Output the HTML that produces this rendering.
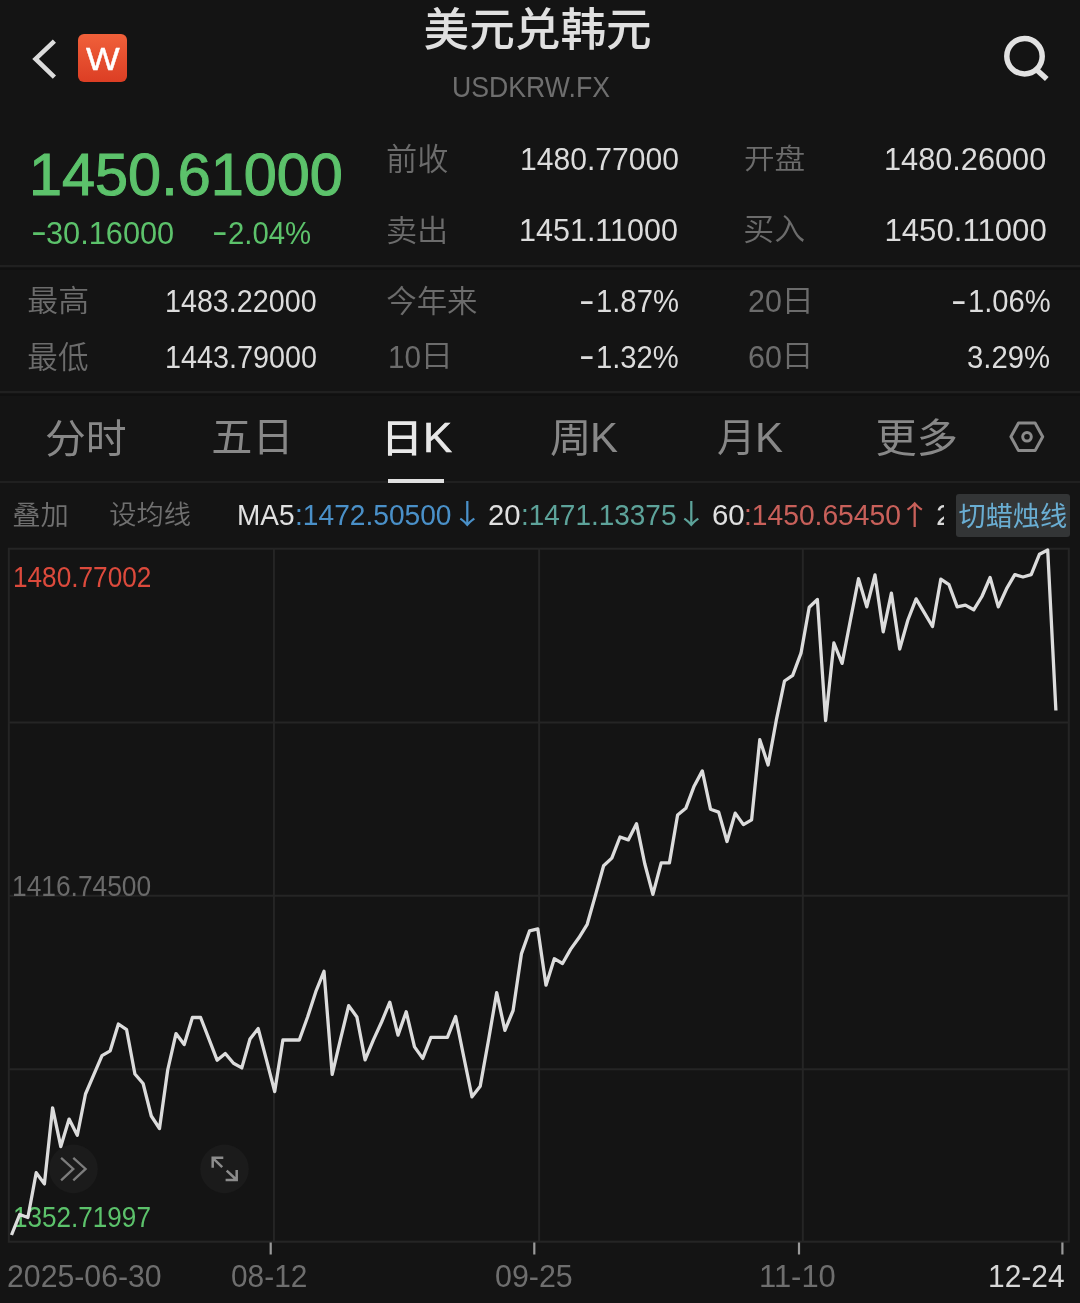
<!DOCTYPE html>
<html lang="zh"><head><meta charset="utf-8"><title>美元兑韩元 USDKRW.FX</title>
<style>
html,body{margin:0;padding:0}
body{width:1080px;height:1303px;background:#141414;position:relative;overflow:hidden;font-family:'Liberation Sans','Noto Sans CJK SC',sans-serif}
.t{position:absolute;white-space:pre;transform-origin:0 0;line-height:1}
.hl{position:absolute;left:0;width:1080px;height:2px;background:#202020}
svg{position:absolute;left:0;top:0}
.logo{position:absolute;left:78.3px;top:33.9px;width:48.4px;height:48.4px;border-radius:6px;background:linear-gradient(#f0603a,#dc3e24)}
.btn{position:absolute;left:956.2px;top:493.6px;width:113.8px;height:43px;border-radius:3px;background:#333536}
.ul{position:absolute;left:387.7px;top:478.5px;width:56px;height:4.5px;background:#e0e0e0}
</style></head><body>
<div class="hl" style="top:264.6px"></div><div class="hl" style="top:267.6px;height:2.6px;background:#101010"></div>
<div class="hl" style="top:391.2px"></div><div class="hl" style="top:393.6px;height:2.4px;background:#101010"></div>
<div class="hl" style="top:481.2px"></div>
<div class="ul"></div>
<div class="logo"></div>
<div class="btn"></div>
<svg width="1080" height="1303" viewBox="0 0 1080 1303" fill="none">
<g stroke="#252525" stroke-width="2">
<rect x="8.8" y="548.7" width="1060" height="693"/>
<path d="M8.8 722.5H1068.8M8.8 895.7H1068.8M8.8 1069.3H1068.8M273.9 548.7V1241.7M539.1 548.7V1241.7M802.8 548.7V1241.7"/>
</g>
<path d="M270.7 1242.5V1254.5M534.3 1242.5V1254.5M799 1242.5V1254.5M1062.4 1242.5V1254.5" stroke="#9a9a9a" stroke-width="2.2"/>
<circle cx="73.5" cy="1168.9" r="24.3" fill="#1b1b1b"/>
<circle cx="224.5" cy="1168.9" r="24.3" fill="#1b1b1b"/>
<path d="M61.1 1157.8L73.3 1168.9L61.1 1180.4M73.3 1157.8L85.6 1168.9L73.3 1180.4" stroke="#7c7c7c" stroke-width="2.3"/>
<path d="M223.3 1157.8H212.7V1167.8M212.7 1157.8L222.2 1167.1M225.6 1180H236.7V1170M236.7 1180L226.7 1170.7" stroke="#8c8c8c" stroke-width="2.5"/>
<path d="M54.4 41.1L35.6 58.9L54.4 77.2" stroke="#dcdcdc" stroke-width="4.6"/>
<circle cx="1024.5" cy="56.2" r="17.7" stroke="#e2e2e2" stroke-width="5.5"/>
<path d="M1036.6 69.8L1046.8 79" stroke="#e2e2e2" stroke-width="5.5"/>
<path d="M1010.9 436.8L1018.5 423.1H1035.1L1042.7 436.8L1035.1 450.6H1018.5Z" stroke="#8a8a8a" stroke-width="3" stroke-linejoin="round"/>
<circle cx="1027" cy="436.8" r="4.3" stroke="#8c8c8c" stroke-width="3"/>
</svg>
<span class="t" style="left:423.58px;top:8.00px;font:500 45.62px/1 'Liberation Sans', 'Noto Sans CJK SC', sans-serif;color:#e0e0e0;">美元兑韩元</span>
<span class="t" style="left:85.59px;top:44.00px;font:400 30.65px/1 'Liberation Sans', sans-serif;color:#ffffff;transform:scale(1.1649,1.0000);-webkit-text-stroke:0.4px #fff;">W</span>
<span class="t" style="left:451.84px;top:72.00px;font:400 29.40px/1 'Liberation Sans', sans-serif;color:#6e6e6e;transform:scale(0.9067,1.0000);">USDKRW.FX</span>
<span class="t" style="left:386.01px;top:143.53px;font:350 31.22px/1 'Liberation Sans', 'Noto Sans CJK SC', sans-serif;color:#6c6c6c;transform:scale(1.0000,0.9853);">前收</span>
<span class="t" style="left:519.51px;top:144.00px;font:400 31.16px/1 'Liberation Sans', sans-serif;color:#dcdcdc;transform:scale(0.9652,1.0000);">1480.77000</span>
<span class="t" style="left:743.99px;top:144.74px;font:350 30.62px/1 'Liberation Sans', 'Noto Sans CJK SC', sans-serif;color:#6c6c6c;transform:scale(1.0000,0.9371);">开盘</span>
<span class="t" style="left:884.32px;top:144.00px;font:400 31.16px/1 'Liberation Sans', sans-serif;color:#dcdcdc;transform:scale(0.9856,1.0000);">1480.26000</span>
<span class="t" style="left:28.54px;top:145.00px;font:400 59.80px/1 'Liberation Sans', sans-serif;color:#5cc26b;transform:scale(0.9935,1.0000);-webkit-text-stroke:1.1px #5cc26b;">1450.61000</span>
<span class="t" style="left:31.35px;top:214.12px;font:400 34.75px/1 'Liberation Sans', sans-serif;color:#5cc26b;transform:scale(1.3731,1.0000);">-</span>
<span class="t" style="left:45.93px;top:218.00px;font:400 30.65px/1 'Liberation Sans', sans-serif;color:#5cc26b;transform:scale(1.0029,1.0000);">30.16000</span>
<span class="t" style="left:211.94px;top:214.12px;font:400 34.75px/1 'Liberation Sans', sans-serif;color:#5cc26b;transform:scale(1.3475,1.0000);">-</span>
<span class="t" style="left:227.82px;top:218.00px;font:400 30.65px/1 'Liberation Sans', sans-serif;color:#5cc26b;transform:scale(0.9570,1.0000);">2.04%</span>
<span class="t" style="left:385.91px;top:215.60px;font:350 31.16px/1 'Liberation Sans', 'Noto Sans CJK SC', sans-serif;color:#6c6c6c;transform:scale(1.0000,0.9660);">卖出</span>
<span class="t" style="left:519.39px;top:215.00px;font:400 31.16px/1 'Liberation Sans', sans-serif;color:#dcdcdc;transform:scale(0.9793,1.0000);">1451.11000</span>
<span class="t" style="left:743.27px;top:215.49px;font:350 30.88px/1 'Liberation Sans', 'Noto Sans CJK SC', sans-serif;color:#6c6c6c;transform:scale(1.0000,0.9848);">买入</span>
<span class="t" style="left:884.43px;top:215.00px;font:400 31.16px/1 'Liberation Sans', sans-serif;color:#dcdcdc;">1450.11000</span>
<span class="t" style="left:27.24px;top:287.35px;font:350 30.92px/1 'Liberation Sans', 'Noto Sans CJK SC', sans-serif;color:#6c6c6c;transform:scale(1.0000,0.9685);">最高</span>
<span class="t" style="left:164.90px;top:286.00px;font:400 30.65px/1 'Liberation Sans', sans-serif;color:#dcdcdc;transform:scale(0.9364,1.0000);">1483.22000</span>
<span class="t" style="left:386.25px;top:285.80px;font:350 30.44px/1 'Liberation Sans', 'Noto Sans CJK SC', sans-serif;color:#6c6c6c;transform:scale(1.0000,1.0007);">今年来</span>
<span class="t" style="left:579.43px;top:283.32px;font:400 34.75px/1 'Liberation Sans', sans-serif;color:#dcdcdc;transform:scale(1.3478,1.0000);">-</span>
<span class="t" style="left:595.76px;top:286.00px;font:400 30.65px/1 'Liberation Sans', sans-serif;color:#dcdcdc;transform:scale(0.9538,1.0000);">1.87%</span>
<span class="t" style="left:748.09px;top:286.00px;font:400 30.65px/1 'Liberation Sans', sans-serif;color:#6c6c6c;transform:scale(0.9934,1.0000);">20</span>
<span class="t" style="left:780.99px;top:286.00px;font:350 29.45px/1 'Liberation Sans', 'Noto Sans CJK SC', sans-serif;color:#6c6c6c;transform:scale(1.1328,1.0000);">日</span>
<span class="t" style="left:950.91px;top:283.32px;font:400 34.75px/1 'Liberation Sans', sans-serif;color:#dcdcdc;transform:scale(1.3481,1.0000);">-</span>
<span class="t" style="left:967.77px;top:286.00px;font:400 30.65px/1 'Liberation Sans', sans-serif;color:#dcdcdc;transform:scale(0.9520,1.0000);">1.06%</span>
<span class="t" style="left:27.30px;top:341.56px;font:350 30.58px/1 'Liberation Sans', 'Noto Sans CJK SC', sans-serif;color:#6c6c6c;transform:scale(1.0000,0.9892);">最低</span>
<span class="t" style="left:164.87px;top:342.00px;font:400 30.53px/1 'Liberation Sans', sans-serif;color:#dcdcdc;transform:scale(0.9423,1.0000);">1443.79000</span>
<span class="t" style="left:388.17px;top:342.00px;font:400 30.53px/1 'Liberation Sans', sans-serif;color:#6c6c6c;transform:scale(0.9714,1.0000);">10</span>
<span class="t" style="left:419.73px;top:340.80px;font:350 29.97px/1 'Liberation Sans', 'Noto Sans CJK SC', sans-serif;color:#6c6c6c;transform:scale(1.1145,1.0000);">日</span>
<span class="t" style="left:579.43px;top:338.42px;font:400 34.75px/1 'Liberation Sans', sans-serif;color:#dcdcdc;transform:scale(1.3478,1.0000);">-</span>
<span class="t" style="left:595.73px;top:342.00px;font:400 30.53px/1 'Liberation Sans', sans-serif;color:#dcdcdc;transform:scale(0.9568,1.0000);">1.32%</span>
<span class="t" style="left:748.00px;top:342.00px;font:400 30.53px/1 'Liberation Sans', sans-serif;color:#6c6c6c;transform:scale(0.9980,1.0000);">60</span>
<span class="t" style="left:780.94px;top:340.80px;font:350 29.97px/1 'Liberation Sans', 'Noto Sans CJK SC', sans-serif;color:#6c6c6c;transform:scale(1.0946,1.0000);">日</span>
<span class="t" style="left:967.14px;top:342.00px;font:400 30.53px/1 'Liberation Sans', sans-serif;color:#dcdcdc;transform:scale(0.9611,1.0000);">3.29%</span>
<span class="t" style="left:44.96px;top:419.56px;font:400 40.86px/1 'Liberation Sans', 'Noto Sans CJK SC', sans-serif;color:#888888;transform:scale(1.0000,0.9630);">分时</span>
<span class="t" style="left:211.36px;top:418.45px;font:400 41.13px/1 'Liberation Sans', 'Noto Sans CJK SC', sans-serif;color:#888888;transform:scale(1.0000,0.9638);">五日</span>
<span class="t" style="left:381.45px;top:419.95px;font:500 38.43px/1 'Liberation Sans', 'Noto Sans CJK SC', sans-serif;color:#e8e8e8;transform:scale(1.0882,1.0000);">日</span>
<span class="t" style="left:422.55px;top:417.00px;font:400 41.58px/1 'Liberation Sans', sans-serif;color:#e8e8e8;transform:scale(1.0484,1.0000);-webkit-text-stroke:0.5px #e8e8e8;">K</span>
<span class="t" style="left:549.50px;top:418.94px;font:400 39.62px/1 'Liberation Sans', 'Noto Sans CJK SC', sans-serif;color:#888888;transform:scale(1.0463,1.0000);">周</span>
<span class="t" style="left:590.16px;top:417.00px;font:400 41.58px/1 'Liberation Sans', sans-serif;color:#888888;transform:scale(1.0093,1.0000);">K</span>
<span class="t" style="left:717.06px;top:419.15px;font:400 38.92px/1 'Liberation Sans', 'Noto Sans CJK SC', sans-serif;color:#888888;transform:scale(0.9841,1.0000);">月</span>
<span class="t" style="left:755.16px;top:417.00px;font:400 41.58px/1 'Liberation Sans', sans-serif;color:#888888;transform:scale(1.0093,1.0000);">K</span>
<span class="t" style="left:875.46px;top:419.47px;font:400 41.20px/1 'Liberation Sans', 'Noto Sans CJK SC', sans-serif;color:#888888;transform:scale(1.0000,0.9584);">更多</span>
<span class="t" style="left:12.25px;top:501.77px;font:350 28.38px/1 'Liberation Sans', 'Noto Sans CJK SC', sans-serif;color:#707070;transform:scale(1.0000,0.9442);">叠加</span>
<span class="t" style="left:109.35px;top:502.23px;font:350 27.25px/1 'Liberation Sans', 'Noto Sans CJK SC', sans-serif;color:#707070;transform:scale(1.0000,0.9469);">设均线</span>
<span class="t" style="left:237.47px;top:501.00px;font:400 28.89px/1 'Liberation Sans', sans-serif;color:#e0e0e0;transform:scale(0.9679,1.0000);">MA5</span>
<span class="t" style="left:295.47px;top:501.00px;font:400 28.89px/1 'Liberation Sans', sans-serif;color:#4a90c8;transform:scale(0.9748,1.0000);">:1472.50500</span>
<span class="t" style="left:450.99px;top:499.00px;font:400 27.60px/1 'Noto Sans CJK SC', sans-serif;color:#4a90c8;transform:scale(1.1830,1.0000);">↓</span>
<span class="t" style="left:488.38px;top:501.00px;font:400 28.89px/1 'Liberation Sans', sans-serif;color:#e0e0e0;transform:scale(1.0136,1.0000);">20</span>
<span class="t" style="left:520.52px;top:501.00px;font:400 28.89px/1 'Liberation Sans', sans-serif;color:#5da39a;transform:scale(0.9682,1.0000);">:1471.13375</span>
<span class="t" style="left:674.99px;top:499.00px;font:400 27.60px/1 'Noto Sans CJK SC', sans-serif;color:#5da39a;transform:scale(1.1830,1.0000);">↓</span>
<span class="t" style="left:712.20px;top:501.00px;font:400 28.89px/1 'Liberation Sans', sans-serif;color:#e0e0e0;transform:scale(1.0182,1.0000);">60</span>
<span class="t" style="left:744.44px;top:501.00px;font:400 28.89px/1 'Liberation Sans', sans-serif;color:#c8605a;transform:scale(0.9770,1.0000);">:1450.65450</span>
<span class="t" style="left:898.01px;top:499.89px;font:400 27.32px/1 'Noto Sans CJK SC', sans-serif;color:#c8605a;transform:scale(1.2231,1.0000);">↑</span>
<div style="position:absolute;left:0;top:0;width:944.3px;height:600px;overflow:hidden"><span class="t" style="left:935.70px;top:501.00px;font:400 28.89px/1 'Liberation Sans', sans-serif;color:#d8d8d8;transform:scale(1.0321,1.0000);">2</span></div>
<span class="t" style="left:958.56px;top:502.65px;font:400 27.14px/1 'Liberation Sans', 'Noto Sans CJK SC', sans-serif;color:#6aaed3;transform:scale(1.0000,0.9887);">切蜡烛线</span>
<span class="t" style="left:13.00px;top:563.00px;font:400 28.64px/1 'Liberation Sans', sans-serif;color:#dc4a3c;transform:scale(0.9146,1.0000);">1480.77002</span>
<span class="t" style="left:12.46px;top:872.00px;font:400 28.64px/1 'Liberation Sans', sans-serif;color:#6a6a6a;transform:scale(0.9200,1.0000);">1416.74500</span>
<span class="t" style="left:13.00px;top:1203.00px;font:400 28.64px/1 'Liberation Sans', sans-serif;color:#5cc26b;transform:scale(0.9118,1.0000);">1352.71997</span>
<span class="t" style="left:6.67px;top:1261.00px;font:400 30.53px/1 'Liberation Sans', sans-serif;color:#6e6e6e;transform:scale(0.9908,1.0000);">2025-06-30</span>
<span class="t" style="left:230.83px;top:1261.00px;font:400 30.53px/1 'Liberation Sans', sans-serif;color:#6e6e6e;transform:scale(0.9783,1.0000);">08-12</span>
<span class="t" style="left:494.74px;top:1261.00px;font:400 30.53px/1 'Liberation Sans', sans-serif;color:#6e6e6e;transform:scale(0.9963,1.0000);">09-25</span>
<span class="t" style="left:759.25px;top:1261.00px;font:400 30.53px/1 'Liberation Sans', sans-serif;color:#6e6e6e;transform:scale(1.0132,1.0000);">11-10</span>
<span class="t" style="left:988.03px;top:1261.00px;font:400 30.53px/1 'Liberation Sans', sans-serif;color:#d8d8d8;transform:scale(0.9804,1.0000);">12-24</span>
<svg width="1080" height="1303" viewBox="0 0 1080 1303" fill="none">
<polyline points="11.5,1235.0 19.7,1214.5 27.9,1217.5 36.2,1172.7 44.4,1183.9 52.6,1107.8 60.8,1146.6 69.1,1119.1 77.3,1135.2 85.5,1094.0 93.7,1074.8 102.0,1055.6 110.2,1050.8 118.4,1024.0 126.6,1029.7 134.9,1074.0 143.1,1083.5 151.3,1116.0 159.5,1128.5 167.7,1070.0 176.0,1033.6 184.2,1044.6 192.4,1017.5 200.6,1017.5 208.9,1038.8 217.1,1060.2 225.3,1053.5 233.5,1063.3 241.8,1067.9 250.0,1039.0 258.2,1028.6 266.4,1059.7 274.7,1091.6 282.9,1040.0 291.1,1040.0 299.3,1040.0 307.6,1017.0 315.8,991.7 324.0,971.3 332.2,1074.3 340.4,1039.6 348.7,1005.6 356.9,1017.0 365.1,1059.9 373.3,1040.1 381.6,1022.0 389.8,1002.2 398.0,1035.1 406.2,1011.7 414.5,1046.9 422.7,1058.4 430.9,1037.3 439.1,1037.3 447.4,1037.3 455.6,1016.5 463.8,1057.0 472.0,1096.8 480.2,1086.3 488.5,1040.2 496.7,992.6 504.9,1030.3 513.1,1010.5 521.4,953.9 529.6,930.8 537.8,928.9 546.0,985.2 554.3,958.7 562.5,963.5 570.7,949.1 578.9,937.8 587.2,924.3 595.4,895.4 603.6,865.8 611.8,858.1 620.0,837.0 628.3,839.9 636.5,823.7 644.7,863.5 652.9,894.3 661.2,862.9 669.4,862.9 677.6,815.0 685.8,808.3 694.1,786.2 702.3,770.9 710.5,809.2 718.7,812.1 727.0,841.5 735.2,813.1 743.4,824.6 751.6,819.8 759.8,739.7 768.1,765.0 776.3,720.2 784.5,681.0 792.7,675.3 801.0,653.2 809.2,607.2 817.4,599.5 825.6,720.6 833.9,643.0 842.1,663.4 850.3,620.7 858.5,578.7 866.8,606.8 875.0,574.9 883.2,631.8 891.4,593.1 899.7,649.0 907.9,620.0 916.1,598.9 924.3,612.7 932.5,626.5 940.8,579.2 949.0,584.7 957.2,606.9 965.4,605.1 973.7,609.8 981.9,596.5 990.1,577.5 998.3,606.9 1006.6,588.7 1014.8,574.6 1023.0,577.0 1031.2,574.6 1039.5,554.2 1047.7,550.0 1055.9,710.5" stroke="#dcdcdc" stroke-width="3.3" stroke-linejoin="round"/>
</svg>
</body></html>
